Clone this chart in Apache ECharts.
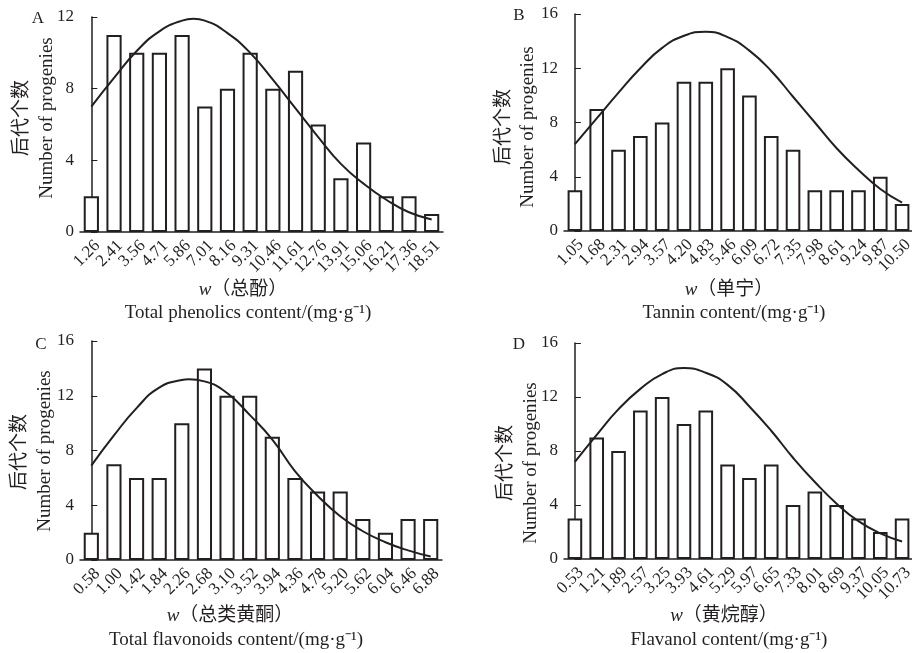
<!DOCTYPE html>
<html>
<head>
<meta charset="utf-8">
<script src="https://cdn.jsdelivr.net/npm/echarts@6/dist/echarts.min.js"></script>
<style>
  html, body { margin: 0; padding: 0; background: #fff; }
  #chart { width: 912px; height: 653px; }
</style>
</head>
<body>
<div id="chart"></div>
<script>
// bin labels (mg/g) and progeny counts
var labelsA = ['1.26','2.41','3.56','4.71','5.86','7.01','8.16','9.31','10.46','11.61','12.76','13.91','15.06','16.21','17.36','18.51']
var countsA = [2, 11, 10, 10, 11, 7, 8, 10, 8, 9, 6, 3, 5, 2, 2, 1]
// fitted curve, read as [bin position, count]
var curveA = [[0,7.0],[1,8.6],[2,10.1],[3,11.2],[4,11.8],[4.5,11.9],[5,11.8],[6,11.1],[7,10.0],[8,8.5],[9,6.9],[10,5.3],[11,3.8],[12,2.7],[13,1.8],[14,1.1],[15,0.7]]

var labelsB = ['1.05','1.68','2.31','2.94','3.57','4.20','4.83','5.46','6.09','6.72','7.35','7.98','8.61','9.24','9.87','10.50']
var countsB = [3, 9, 6, 7, 8, 11, 11, 12, 10, 7, 6, 3, 3, 3, 4, 2]
var curveB = [[0,6.4],[1,8.3],[2,10.2],[3,12.0],[4,13.5],[5,14.4],[6,14.7],[7,14.3],[8,13.3],[9,11.8],[10,9.9],[11,8.0],[12,6.1],[13,4.5],[14,3.1],[15,2.1]]

var labelsC = ['0.58','1.00','1.42','1.84','2.26','2.68','3.10','3.52','3.94','4.36','4.78','5.20','5.62','6.04','6.46','6.88']
var countsC = [2, 7, 6, 6, 10, 14, 12, 12, 9, 6, 5, 5, 3, 2, 3, 3]
var curveC = [[0,6.9],[1,9.1],[2,11.1],[3,12.6],[4,13.15],[4.3,13.2],[5,13.05],[6,12.2],[7,10.6],[8,8.8],[9,6.5],[10,4.7],[11,3.2],[12,2.1],[13,1.3],[14,0.7],[15,0.25]]

var labelsD = ['0.53','1.21','1.89','2.57','3.25','3.93','4.61','5.29','5.97','6.65','7.33','8.01','8.69','9.37','10.05','10.73']
var countsD = [3, 9, 8, 11, 12, 10, 11, 7, 6, 7, 4, 5, 4, 3, 2, 3]
var curveD = [[0,7.2],[1,9.2],[2,11.1],[3,12.6],[4,13.7],[5,14.15],[6,13.8],[7,12.9],[8,11.3],[9,9.5],[10,7.5],[11,5.7],[12,4.1],[13,2.8],[14,1.9],[15,1.3]]

var serif = '"Liberation Serif", "Noto Sans CJK SC", serif'
var ink = '#231f20'

var panels = [
  { labels: labelsA, counts: countsA, curve: curveA, max: 12, grid: { left: 80, top: 17, width: 363, height: 215 } },
  { labels: labelsB, counts: countsB, curve: curveB, max: 16, grid: { left: 564, top: 14, width: 349, height: 217 } },
  { labels: labelsC, counts: countsC, curve: curveC, max: 16, grid: { left: 80, top: 341, width: 362, height: 219 } },
  { labels: labelsD, counts: countsD, curve: curveD, max: 16, grid: { left: 564, top: 343, width: 349, height: 216 } }
]

var grids = [], xAxes = [], yAxes = [], series = []
panels.forEach(function (p, i) {
  grids.push(Object.assign({ containLabel: false, outerBoundsMode: 'none' }, p.grid))
  xAxes.push({
    type: 'category',
    gridIndex: i,
    data: p.labels,
    boundaryGap: true,
    axisLine: { lineStyle: { color: ink, width: 1.5 } },
    axisTick: { inside: true, length: 4, lineStyle: { color: ink, width: 1 } },
    axisLabel: {
      interval: 0, rotate: 45, fontSize: 17, fontFamily: serif, color: ink,
      margin: 5, verticalAlign: 'top'
    },
    splitLine: { show: false }
  })
  yAxes.push({
    type: 'value',
    gridIndex: i,
    min: 0,
    max: p.max,
    interval: 4,
    axisLine: { show: true, lineStyle: { color: ink, width: 1.5 } },
    axisTick: { show: true, inside: true, length: 6, lineStyle: { color: ink, width: 1 } },
    axisLabel: { fontSize: 17, fontFamily: serif, color: ink, margin: 6 },
    splitLine: { show: false }
  })
  series.push({
    type: 'bar',
    xAxisIndex: i,
    yAxisIndex: i,
    data: p.counts,
    barWidth: '67%',
    itemStyle: { color: '#fff', borderColor: ink, borderWidth: 2 },
    silent: true
  })
})

// hidden value axes so the curve can be placed between bin centres
panels.forEach(function (p, i) {
  xAxes.push({ type: 'value', gridIndex: i, min: -0.5, max: 15.5, show: false })
  series.push({
    type: 'line',
    xAxisIndex: 4 + i,
    yAxisIndex: i,
    data: p.curve,
    smooth: true,
    symbol: 'none',
    lineStyle: { color: ink, width: 2 },
    z: 3,
    silent: true
  })
})

// text helpers for letters and axis titles
function txt(x, y, text, size, rot, rich) {
  return {
    type: 'text', x: x, y: y, rotation: rot || 0, silent: true,
    style: {
      text: text, fontSize: size, fontFamily: serif, fill: ink,
      align: 'center', verticalAlign: 'middle',
      textAlign: 'center', textVerticalAlign: 'middle',
      rich: rich
    }
  }
}
var richW = { it: { fontStyle: 'italic', fontSize: 19, fontFamily: serif, fill: ink } }
var up = Math.PI / 2

var graphics = [
  txt(38, 19, 'A', 17), txt(519, 16, 'B', 17), txt(41, 345, 'C', 17), txt(519, 345, 'D', 17),

  txt(22, 118, '后代个数', 19, up), txt(47, 118, 'Number of progenies', 19, up),
  txt(504, 127, '后代个数', 19, up), txt(528, 127, 'Number of progenies', 19, up),
  txt(20, 452, '后代个数', 19, up), txt(45, 451, 'Number of progenies', 19, up),
  txt(506, 463, '后代个数', 19, up), txt(531, 463, 'Number of progenies', 19, up),

  txt(243, 290, '{it|w}（总酚）', 19, 0, richW),
  txt(248, 313, 'Total phenolics content/(mg·g⁻¹)', 19),
  txt(729, 290, '{it|w}（单宁）', 19, 0, richW),
  txt(734, 313, 'Tannin content/(mg·g⁻¹)', 19),
  txt(230, 616, '{it|w}（总类黄酮）', 19, 0, richW),
  txt(236, 640, 'Total flavonoids content/(mg·g⁻¹)', 19),
  txt(724, 616, '{it|w}（黄烷醇）', 19, 0, richW),
  txt(729, 640, 'Flavanol content/(mg·g⁻¹)', 19)
]

var chart = echarts.init(document.getElementById('chart'), null, { renderer: 'canvas' })
chart.setOption({
  animation: false,
  backgroundColor: '#fff',
  grid: grids,
  xAxis: xAxes,
  yAxis: yAxes,
  series: series,
  graphic: graphics
})
</script>
</body>
</html>
